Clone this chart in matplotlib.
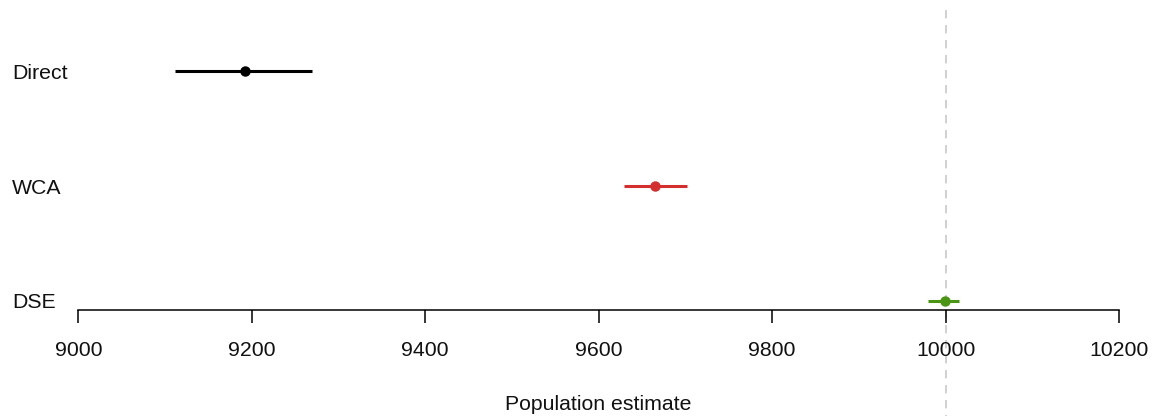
import matplotlib
matplotlib.use("Agg")
import matplotlib.pyplot as plt
import matplotlib.transforms as mtransforms

methods = ["Direct", "WCA", "DSE"]
estimates = [9192, 9665, 9999]
lower = [9111, 9629, 9980]
upper = [9269, 9702, 10016]
colors = ["#000000", "#d32f2f", "#4b9514"]
ypos = [3, 2, 1]
true_value = 10000
xticks = [9000, 9200, 9400, 9600, 9800, 10000, 10200]

plt.rcParams['font.family'] = ['Liberation Sans', 'DejaVu Sans']
FS = 15.3

W, H = 1156, 416
fig = plt.figure(figsize=(W / 100, H / 100), dpi=100)
left, right = 78.3 / W, 1119 / W
bottom, top = 1 - 310 / H, 1 - 10 / H
ax = fig.add_axes([left, bottom, right - left, top - bottom])

ax.set_xlim(9000, 10200)
ax.set_ylim(0.919, 3.531)

# dashed reference line spanning beyond the axes
trans = mtransforms.blended_transform_factory(ax.transData, ax.transAxes)
ax.plot([true_value, true_value], [1.0, -0.355], transform=trans, color="#c8c8c8",
        lw=1.2, ls=(0, (5, 4)), clip_on=False, zorder=0)

for e, lo, hi, c, y in zip(estimates, lower, upper, colors, ypos):
    ax.plot([lo, hi], [y, y], color=c, lw=2.2, solid_capstyle="butt", zorder=3)
    ax.plot([e], [y], "o", color=c, markersize=6.5, zorder=4)

tr = mtransforms.blended_transform_factory(fig.transFigure, ax.transData)
for m, y in zip(methods, ypos):
    ax.text(12 / W, y - 0.02, m, transform=tr, ha="left", va="center",
            fontsize=FS, color="#111111", clip_on=False)

for s in ["top", "right", "left"]:
    ax.spines[s].set_visible(False)
ax.spines["bottom"].set_linewidth(1.1)
ax.spines["bottom"].set_bounds(9000, 10200)
ax.set_yticks([])
ax.set_xticks(xticks)
ax.set_xticklabels([str(t) for t in xticks])
ax.tick_params(axis="x", length=9.4, width=1.1, pad=13, labelsize=FS, labelcolor="#111111")
ax.set_xlabel("Population estimate", fontsize=FS, color="#111111", labelpad=25)

fig.savefig("out.png", dpi=100, facecolor="white")
